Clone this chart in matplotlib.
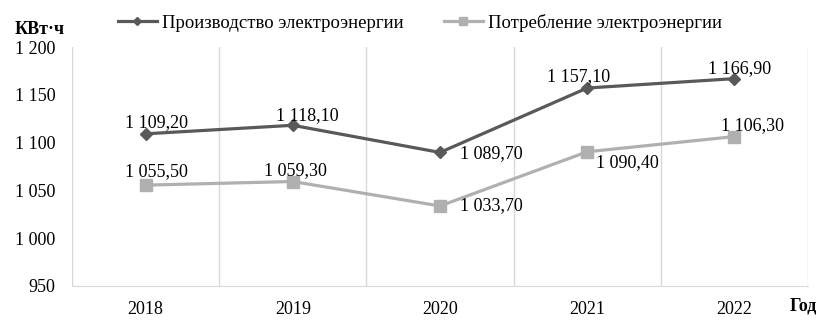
import matplotlib
matplotlib.use("Agg")
import matplotlib.pyplot as plt

years = ["2018", "2019", "2020", "2021", "2022"]
production = [1109.2, 1118.1, 1089.7, 1157.1, 1166.9]
consumption = [1055.5, 1059.3, 1033.7, 1090.4, 1106.3]
yticks = [950, 1000, 1050, 1100, 1150, 1200]
series_names = ["Производство электроэнергии", "Потребление электроэнергии"]

def fmt(v):
    s = f"{v:,.2f}".replace(",", " ").replace(".", ",")
    return s

plt.rcParams['font.family'] = ['Liberation Serif', 'DejaVu Serif']
plt.rcParams['font.size'] = 13

fig = plt.figure(figsize=(8.31, 3.21), dpi=100)
ax = fig.add_axes([72/831, 1-286/321, (808-72)/831, (286-47)/321])

x = list(range(len(years)))
c1 = '#595959'
c2 = '#b0b0b0'
ax.plot(x, production, color=c1, lw=2.3, marker='D', ms=6.5, label=series_names[0], zorder=3)
ax.plot(x, consumption, color=c2, lw=2.3, marker='s', ms=8, label=series_names[1], zorder=3)

ax.set_xlim(-0.5, len(years)-0.5)
ax.set_ylim(950, 1200)
ax.set_yticks(yticks)
ax.set_yticklabels([f"{t:,}".replace(",", " ") for t in yticks])
ax.set_xticks(x)
ax.set_xticklabels(years)
for b in [i - 0.5 for i in range(len(years)+1)]:
    ax.axvline(b, color='#d9d9d9', lw=1, zorder=1)
for s in ['top', 'right', 'left']:
    ax.spines[s].set_visible(False)
ax.spines['bottom'].set_color('#d9d9d9')
ax.tick_params(axis='both', length=0, labelsize=13)
ax.tick_params(axis='y', pad=12)
ax.tick_params(axis='x', pad=11)

prod_off = [(11, -11, 'center'), (15, -10, 'center'), (20, 1, 'left'), (-9, -11, 'center'), (5, -10, 'center')]
cons_off = [(11, -14, 'center'), (3, -11, 'center'), (20, 0, 'left'), (9, 11, 'left'), (18, -11, 'center')]
for i in x:
    dx, dy, ha = prod_off[i]
    ax.annotate(fmt(production[i]), (i, production[i]), xytext=(dx, -dy),
                textcoords='offset pixels', ha=ha, va='center', fontsize=13)
    dx, dy, ha = cons_off[i]
    ax.annotate(fmt(consumption[i]), (i, consumption[i]), xytext=(dx, -dy),
                textcoords='offset pixels', ha=ha, va='center', fontsize=13)

fig.text(15/831, 1-30/321, "КВт·ч", fontweight='bold', fontsize=13, va='center', ha='left')
fig.text(790/831, 1-306/321, "Год", fontweight='bold', fontsize=13, va='center', ha='left')

leg = fig.legend(loc='center', bbox_to_anchor=(420/831, 1-23/321), ncol=2, frameon=False,
                 fontsize=13.5, handlelength=2.1, handletextpad=0.3, columnspacing=2.1,
                 markerscale=0.65)

fig.savefig("out.png", dpi=100)
